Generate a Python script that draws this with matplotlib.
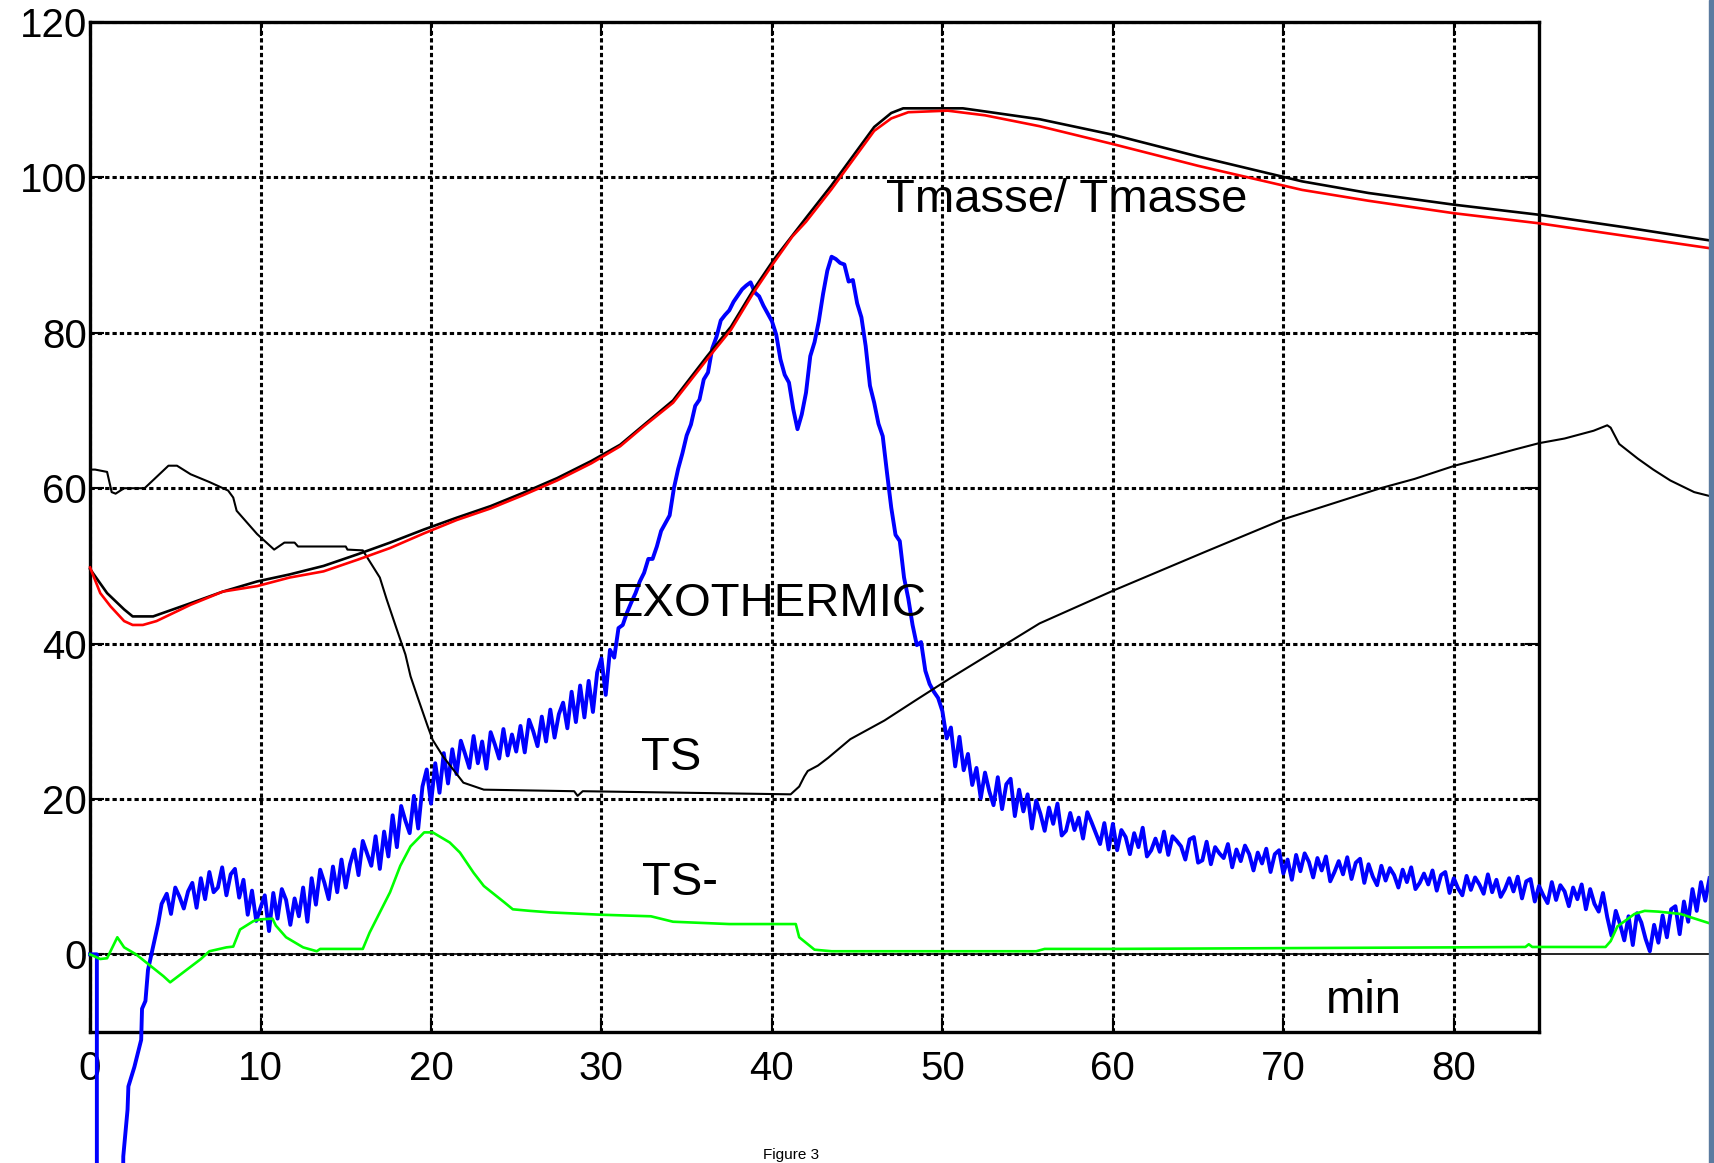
import numpy as np
import matplotlib.pyplot as plt
from matplotlib.patches import Rectangle

plt.rcParams['font.family'] = ['Liberation Sans', 'DejaVu Sans']

# Tmasse (red), minutes / degC
red_x = [0, 0.6, 1.2, 2.0, 2.5, 3.1, 3.9, 5.9, 7.8, 9.8, 11.7, 13.7, 15.7, 17.6, 19.6,
         21.5, 23.5, 25.4, 27.4, 29.4, 31.1, 32.5, 34.2, 36.2, 37.6, 38.9, 40.1, 41.2,
         42.0, 43.5, 45.0, 46.0, 47.0, 48.0, 50.3, 52.5, 55.7, 60.0, 65.0, 71.1, 75.0,
         80.0, 85.0, 90.0, 95.0]
red_y = [49.8, 46.5, 44.8, 42.9, 42.4, 42.4, 42.9, 45.0, 46.7, 47.4, 48.5, 49.3, 50.8,
         52.3, 54.2, 55.9, 57.4, 59.1, 61.0, 63.2, 65.4, 68.0, 71.0, 76.6, 80.4, 85.1,
         89.0, 92.4, 94.3, 98.5, 103.0, 106.0, 107.6, 108.4, 108.6, 108.0, 106.6, 104.3,
         101.5, 98.4, 97.0, 95.4, 94.1, 92.5, 90.9]

# Tmasse (black)
tm_x = [0, 1.0, 2.0, 2.5, 3.7, 5.9, 7.8, 9.8, 11.7, 13.7, 15.7, 17.6, 19.6, 21.5, 23.5,
        25.4, 27.4, 29.4, 31.1, 34.2, 36.2, 37.6, 38.9, 40.1, 42.0, 43.5, 45.0, 46.0,
        47.0, 47.7, 51.2, 52.5, 55.7, 60.0, 65.0, 71.1, 75.0, 80.0, 85.0, 90.0, 95.0]
tm_y = [49.6, 46.5, 44.4, 43.5, 43.5, 45.2, 46.7, 48.0, 48.9, 50.0, 51.5, 53.0, 54.7,
        56.2, 57.7, 59.4, 61.3, 63.5, 65.6, 71.3, 77.0, 80.8, 85.5, 89.4, 94.8, 99.0,
        103.5, 106.5, 108.3, 108.9, 108.9, 108.5, 107.5, 105.5, 102.7, 99.5, 98.0, 96.5,
        95.2, 93.6, 91.9]

# TS (black, thin)
ts_x = [0, 0.3, 1.0, 1.27, 1.5, 2.0, 3.2, 4.6, 5.1, 5.9, 7.0, 8.1, 8.4, 8.6, 9.8, 10.8,
        11.4, 12.0, 12.2, 15.0, 15.1, 16.0, 16.4, 17.0, 17.4, 18.0, 18.5, 18.8, 19.2,
        19.8, 20.1, 20.7, 21.9, 23.1, 28.4, 28.6, 28.9, 41.1, 41.6, 41.9, 42.1, 42.7,
        43.3, 44.6, 46.6, 48.5, 50.5, 53.4, 55.7, 60.0, 65.4, 70.0, 75.7, 77.7, 80.05,
        81.6, 83.6, 85.0, 86.5, 88.2, 89.0, 89.2, 89.7, 90.8, 91.7, 92.7, 94.1, 95.0]
ts_y = [62.4, 62.4, 62.1, 59.5, 59.3, 60.0, 60.0, 62.9, 62.9, 61.8, 60.8, 59.7, 58.8,
        57.1, 54.1, 52.1, 53.0, 53.0, 52.5, 52.5, 52.1, 52.0, 50.6, 48.5, 45.7, 41.8,
        38.6, 35.8, 33.2, 29.4, 27.6, 25.5, 22.1, 21.2, 21.0, 20.4, 21.0, 20.6, 21.6,
        22.9, 23.6, 24.3, 25.3, 27.7, 30.1, 32.8, 35.6, 39.5, 42.6, 46.8, 51.8, 56.0,
        60.0, 61.2, 62.9, 63.8, 65.0, 65.8, 66.4, 67.4, 68.1, 67.8, 65.7, 63.8, 62.4,
        61.0, 59.5, 59.0]

# TS - TT (green)
green_x = [0, 0.6, 1.0, 1.6, 2.0, 2.7, 4.3, 4.7, 6.5, 7.0, 8.0, 8.4, 8.8, 9.6, 10.0,
           10.7, 10.9, 11.5, 12.5, 13.3, 13.5, 16.0, 16.4, 17.0, 17.6, 18.2, 18.8, 19.6,
           20.1, 21.1, 21.7, 22.5, 23.1, 24.3, 24.8, 25.8, 27.0, 30.0, 32.9, 34.2, 37.5,
           41.4, 41.6, 42.5, 43.5, 55.5, 56.0, 60.0, 70.0, 80.0, 84.2, 84.4, 84.6, 88.9,
           89.2, 89.6, 90.6, 91.2, 92.0, 93.3, 94.0, 95.0]
green_y = [0, -0.6, -0.5, 2.2, 0.9, 0.0, -2.8, -3.6, -0.6, 0.4, 0.9, 1.0, 3.2, 4.3, 4.5,
           4.6, 3.7, 2.2, 0.9, 0.4, 0.7, 0.7, 2.8, 5.4, 8.0, 11.4, 13.9, 15.7, 15.7, 14.4,
           13.1, 10.5, 8.8, 6.7, 5.8, 5.6, 5.4, 5.1, 4.9, 4.2, 3.9, 3.9, 2.2, 0.6, 0.4,
           0.4, 0.7, 0.7, 0.8, 0.9, 0.95, 1.3, 0.95, 0.95, 1.7, 3.6, 5.2, 5.6, 5.5, 5.2,
           4.7, 4.0]

# EXOTHERMIC (blue): start-up dive, then samples every 0.25 min from 4.5 min
blue_x0 = [0.0, 0.4, 0.4, 1.9, 1.95, 2.2, 2.25, 2.6, 3.0, 3.05, 3.25, 3.4, 3.8, 4.0, 4.2]
blue_y0 = [0.0, 0.0, -40.0, -40.0, -26.0, -20.0, -17.0, -14.5, -11.0, -7.0, -6.0, -2.0,
           2.0, 4.0, 6.5]
blue_t0 = 4.5
blue_dt = 0.25
blue_rise = [7.8, 5.2, 8.6, 7.4, 5.9, 8.1, 9.2, 6.0,
             9.8, 7.1, 10.6, 8.0, 8.6, 11.2, 7.6, 10.3, 11.0, 7.3, 9.6,
             5.1, 8.2, 4.3, 6.0, 7.6, 3.0, 7.9, 4.6, 8.4, 7.0, 3.8, 7.2, 4.9, 8.6,
             4.2, 9.8, 6.4, 10.9, 9.2, 7.1, 11.3, 8.0, 12.2, 8.6, 11.6,
             13.5, 10.2, 14.6, 13.0, 11.4, 15.2, 11.0, 15.8,
             12.6, 17.9, 13.8, 19.1, 17.2, 15.6, 20.4, 16.2,
             21.6, 23.8, 19.4, 24.6, 20.8, 25.9, 22.0,
             26.4, 23.2, 27.5, 25.8, 24.0, 28.1, 24.6, 27.4, 23.9, 28.6, 27.0, 25.2, 29.0,
             25.6, 28.3, 26.1,
             29.4, 26.0, 30.2, 28.7, 26.8, 30.6, 27.4, 31.5,
             27.9, 30.9, 32.4, 29.1, 33.8, 29.9, 34.6, 30.5,
             35.2, 31.2, 36.3, 38.1, 33.4,
             39.2, 38.2, 42.0, 42.4]
blue_peak = [44.0, 45.3, 46.5, 48.0, 49.1, 50.9, 50.9, 52.5, 54.5, 55.5, 56.5, 60.0, 62.5,
             64.5, 66.8, 68.2, 70.6, 71.4, 74.0, 74.9, 78.0, 79.5, 81.6, 82.3, 82.9, 84.0,
             84.8, 85.6, 86.1, 86.5, 85.2, 84.7, 83.5, 82.5, 81.5, 79.8, 76.6, 74.6, 73.6,
             70.2, 67.6, 69.5, 72.3, 77.0, 78.8, 81.5, 85.0, 88.0, 89.8, 89.5, 89.0, 88.8,
             86.6, 86.8, 83.8, 82.0, 78.3, 73.2, 71.0, 68.3, 66.7, 62.0, 57.5, 54.0, 53.2,
             48.5, 45.8, 42.4, 39.8, 40.2, 36.5, 34.8, 33.8, 33.0, 31.3, 27.8, 29.2, 24.2,
             28.0, 23.7, 25.8, 21.8, 24.0]
blue_tail = [20.1, 23.4, 21.0, 19.2, 22.8, 18.7, 21.9, 22.6, 17.8, 21.2, 18.4, 20.6,
             16.2, 19.8, 18.1, 15.9, 18.9, 16.8, 19.4, 15.3, 15.9, 18.2, 16.0, 17.6, 14.9,
             18.3, 17.0, 15.6, 14.2, 16.9, 13.5, 16.8,
             13.4, 16.0, 15.1, 12.9, 15.6, 13.8, 16.3, 12.6, 13.4, 14.9, 13.2, 15.8, 12.8,
             15.2, 14.6, 13.9, 12.2, 14.8, 15.1, 11.8,
             12.1, 14.5, 11.6, 13.8, 13.0, 12.4, 14.2, 11.2, 13.5, 12.0, 14.0, 12.9, 10.8,
             13.1, 11.7, 13.6, 10.6, 12.9, 13.4, 10.4,
             12.2, 9.6, 12.8, 10.7, 13.0, 11.9, 9.9, 12.4, 10.8, 12.6, 9.4, 10.6, 12.0,
             10.3, 12.5, 9.7, 11.8, 12.3, 9.2, 11.6,
             10.0, 8.9, 11.4, 9.5, 11.1, 10.2, 8.6, 10.9, 9.3, 11.2, 8.4, 9.2, 10.4, 9.0,
             10.8, 8.2, 10.2, 10.6, 7.9, 9.8,
             8.5, 7.6, 10.1, 8.3, 9.9, 9.0, 7.8, 10.3, 8.0, 9.6, 7.4, 8.4, 9.8, 8.1, 10.0,
             7.2, 9.4, 9.7, 6.8, 8.8,
             7.6, 6.6, 9.3, 7.0, 8.9, 8.1, 6.2, 8.6, 7.1, 9.0, 5.8, 8.4, 6.5, 5.5, 7.9, 4.8,
             2.4, 5.6, 3.9, 1.8, 4.9, 1.2, 5.3, 4.1, 2.0, 0.4, 3.8, 1.5, 5.0, 2.2, 5.8, 6.2,
             2.6,
             6.8, 4.2, 8.4, 5.6, 9.3, 6.9, 9.8]

blue_samples = blue_rise + blue_peak + blue_tail
blue_x = blue_x0 + list(blue_t0 + blue_dt * np.arange(len(blue_samples)))
blue_y = blue_y0 + blue_samples

x_ticks = [0, 10, 20, 30, 40, 50, 60, 70, 80]
y_ticks = [0, 20, 40, 60, 80, 100, 120]

# Figure
fig = plt.figure(figsize=(17.15, 11.63), dpi=100)
ax = fig.add_axes([0.0525, 0.1126, 0.8449, 0.8684])

ax.plot(blue_x, blue_y, color='#0000ff', linewidth=2.8, clip_on=False, zorder=3)
ax.plot(green_x, green_y, color='#00ff00', linewidth=1.9, clip_on=False, zorder=4)
ax.plot(ts_x, ts_y, color='black', linewidth=1.5, clip_on=False, zorder=5)
ax.plot(tm_x, tm_y, color='black', linewidth=1.9, clip_on=False, zorder=5)
ax.plot(red_x, red_y, color='#ff0000', linewidth=1.9, clip_on=False, zorder=6)

# zero line runs past the frame like in the original
ax.axhline(0, xmin=0, xmax=95 / 85, color='black', linewidth=1.2, clip_on=False,
           zorder=2)

ax.set_xlim(0, 85)
ax.set_ylim(-10, 120)
ax.set_xticks(x_ticks)
ax.set_yticks(y_ticks)
ax.grid(True, color='black', linestyle=(0, (1.4, 1.0)), linewidth=2.2)
ax.tick_params(direction='in', length=10, width=1.5, top=True, right=True,
               labelsize=29)
ax.tick_params(axis='x', pad=13)
ax.tick_params(axis='y', pad=2)
for s in ax.spines.values():
    s.set_linewidth(2.4)

# Labels
ax.text(57.3, 95.6, 'Tmasse/ Tmasse', fontsize=34, ha='center', va='baseline',
        clip_on=False)
ax.text(39.8, 43.5, 'EXOTHERMIC', fontsize=34, ha='center', va='baseline')
ax.text(34.1, 23.7, 'TS', fontsize=34, ha='center', va='baseline')
ax.text(34.6, 7.7, 'TS-', fontsize=34, ha='center', va='baseline')
ax.text(74.7, -7.5, 'min', fontsize=34, ha='center', va='baseline')

fig.text(0.461, 0.001, 'Figure 3', fontsize=11, ha='center', va='bottom')

# slide border strip on the right
fig.add_artist(Rectangle((1709 / 1715, 0), 6 / 1715, 1, transform=fig.transFigure,
                         color='#5b7ba0'))

plt.savefig('out.png', dpi=100)
